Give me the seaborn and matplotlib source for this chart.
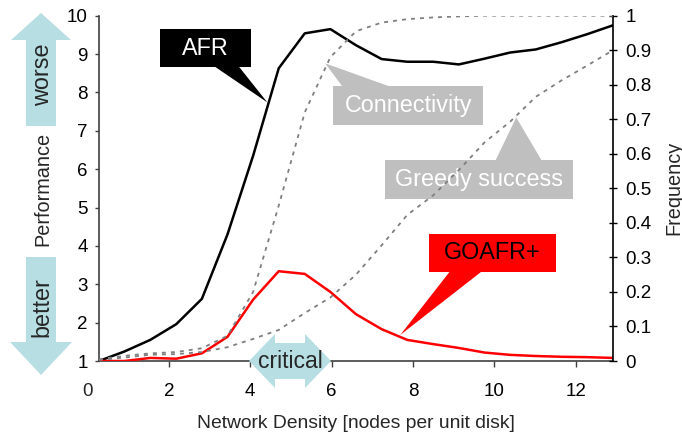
import matplotlib
matplotlib.use("Agg")
import matplotlib.pyplot as plt
from matplotlib.patches import Polygon, Rectangle
import seaborn as sns

# ---- data ----
density = [0.28, 0.91, 1.54, 2.18, 2.81, 3.44, 4.07, 4.70, 5.34, 5.97, 6.60,
           7.23, 7.86, 8.50, 9.13, 9.76, 10.39, 11.02, 11.66, 12.29, 12.92]
afr = [1.0, 1.25, 1.55, 1.96, 2.62, 4.3, 6.35, 8.63, 9.54, 9.65, 9.23,
       8.87, 8.8, 8.8, 8.73, 8.88, 9.04, 9.12, 9.31, 9.52, 9.75]
goafr = [1.0, 1.0, 1.08, 1.06, 1.2, 1.63, 2.6, 3.34, 3.27, 2.8, 2.22,
         1.83, 1.55, 1.44, 1.34, 1.22, 1.16, 1.13, 1.11, 1.1, 1.08]
connectivity = [0.005, 0.015, 0.022, 0.026, 0.037, 0.073, 0.2, 0.45, 0.72, 0.88, 0.955,
                0.98, 0.99, 0.995, 0.998, 1.0, 1.0, 1.0, 1.0, 1.0, 1.0]
greedy = [0.003, 0.01, 0.018, 0.02, 0.026, 0.04, 0.064, 0.09, 0.139, 0.184, 0.25,
          0.335, 0.423, 0.48, 0.553, 0.633, 0.693, 0.765, 0.813, 0.856, 0.90]
x_ticks = [2, 4, 6, 8, 10, 12]
perf_ticks = [1, 2, 3, 4, 5, 6, 7, 8, 9, 10]
freq_ticks = [0, 0.1, 0.2, 0.3, 0.4, 0.5, 0.6, 0.7, 0.8, 0.9, 1]
freq_labels = ["0", "0.1", "0.2", "0.3", "0.4", "0.5", "0.6", "0.7", "0.8", "0.9", "1"]

sns.set_style("white")
plt.rcParams['font.family'] = ['Liberation Sans', 'DejaVu Sans']

W, H = 682, 434
def fx(px):
    return px / W
def fy(py):
    return 1 - py / H

fig = plt.figure(figsize=(W / 100, H / 100), dpi=100)
ax = fig.add_axes([fx(99), fy(361), (613 - 99) / W, (361 - 15.7) / H])
ax2 = ax.twinx()

LBLUE = '#b7dfe3'
GRAY = '#bfbfbf'
DOT = '#7f7f7f'

# callouts (drawn in left axis, beneath lines)
def callout(box, tail, color, text, tcolor):
    x0, x1, y0, y1 = box
    ax.add_patch(Rectangle((x0, y0), x1 - x0, y1 - y0, facecolor=color,
                           edgecolor='none', zorder=1))
    ax.add_patch(Polygon(tail, closed=True, facecolor=color, edgecolor='none', zorder=1))
    ax.text((x0 + x1) / 2, (y0 + y1) / 2, text, color=tcolor, fontsize=16.8,
            ha='center', va='center', zorder=2)

callout((1.78, 4.02, 8.66, 9.65), [(3.09, 8.70), (3.70, 8.70), (4.42, 7.74)], 'black', 'AFR', 'white')
callout((6.04, 9.73, 7.15, 8.16), [(6.29, 8.12), (7.52, 8.12), (5.84, 8.76)], GRAY, 'Connectivity', 'white')
callout((7.32, 11.94, 5.22, 6.23), [(10.02, 6.2), (11.18, 6.2), (10.54, 7.35)], GRAY, 'Greedy success', 'white')
callout((8.40, 11.52, 3.32, 4.31), [(8.92, 3.35), (9.71, 3.35), (7.69, 1.68)], '#ff0000', 'GOAFR+', 'black')

sns.lineplot(x=density, y=afr, ax=ax, color='black', linewidth=1.8, zorder=3)
sns.lineplot(x=density, y=goafr, ax=ax, color='#ff0000', linewidth=1.8, zorder=3)
sns.lineplot(x=density, y=connectivity, ax=ax2, color=DOT, linewidth=1.3,
             linestyle=(0, (2.2, 2.8)), zorder=3)
sns.lineplot(x=density, y=greedy, ax=ax2, color=DOT, linewidth=1.3,
             linestyle=(0, (2.2, 2.8)), zorder=3)

ax.set_xlim(0.28, 12.92)
ax.set_ylim(1, 10)
ax2.set_ylim(0, 1)

ax.set_xticks(x_ticks)
ax.set_xticklabels([str(t) for t in x_ticks])
ax.set_yticks(perf_ticks)
ax.set_yticklabels([str(t) for t in perf_ticks])
ax2.set_yticks(freq_ticks)
ax2.set_yticklabels(freq_labels)

ax.tick_params(axis='x', direction='out', length=4, width=1, colors='#404040',
               labelcolor='black', labelsize=13.5, pad=12, bottom=True)
ax.tick_params(axis='y', direction='out', length=3, width=1, colors='#404040',
               labelcolor='black', labelsize=13.5, pad=5, left=True)
ax2.tick_params(axis='y', direction='inout', length=6, width=1, colors='black',
                labelsize=13.5, pad=6, right=True)

for s in ['top', 'right']:
    ax.spines[s].set_visible(False)
for s in ['left', 'bottom']:
    ax.spines[s].set_color('#404040')
    ax.spines[s].set_linewidth(1.2)
for s in ['top', 'left', 'bottom']:
    ax2.spines[s].set_visible(False)
ax2.spines['right'].set_color('black')
ax2.spines['right'].set_linewidth(1.2)
ax.set_xlabel('')
ax.set_ylabel('')
ax2.set_ylabel('')
ax.grid(False)
ax2.grid(False)

# "0" label left of the axis start, aligned with the other x tick labels
ax.text(0, -0.064, '0', transform=ax.get_xaxis_transform(), ha='center', va='top',
        fontsize=13.5, clip_on=False)

# axis titles
fig.text(fx(356), fy(424), 'Network Density [nodes per unit disk]', ha='center', va='center', fontsize=13.9)
fig.text(fx(43), fy(189), 'Performance', ha='center', va='center', rotation=90, fontsize=14.3)
fig.text(fx(674), fy(188), 'Frequency', ha='center', va='center', rotation=90, fontsize=14.3)

# blue arrows (figure decorations)
def fpoly(pts, **kw):
    fig.add_artist(Polygon([(fx(a), fy(b)) for a, b in pts], closed=True,
                           transform=fig.transFigure, **kw))

up = [(41, 13), (71, 40), (56, 40), (56, 126), (26, 126), (26, 40), (11, 40)]
fpoly(up, facecolor=LBLUE, edgecolor='none', zorder=5)
fig.text(fx(43), fy(75), 'worse', rotation=90, ha='center', va='center', fontsize=16.8, zorder=6)

down = [(41, 375), (72, 342), (56, 342), (56, 257), (26, 257), (26, 342), (10, 342)]
fpoly(down, facecolor=LBLUE, edgecolor='none', zorder=5)
fig.text(fx(42), fy(307), 'better', rotation=90, ha='center', va='center', fontsize=16.8, zorder=6)

dbl = [(249, 361), (275, 334), (275, 343), (305, 343), (305, 334), (331, 361),
       (305, 388), (305, 379), (275, 379), (275, 388)]
fpoly(dbl, facecolor=LBLUE, edgecolor='none', zorder=5)
fig.text(fx(290), fy(362), 'critical', ha='center', va='center', fontsize=16.5, zorder=6)

fig.savefig('out.png', dpi=100)
